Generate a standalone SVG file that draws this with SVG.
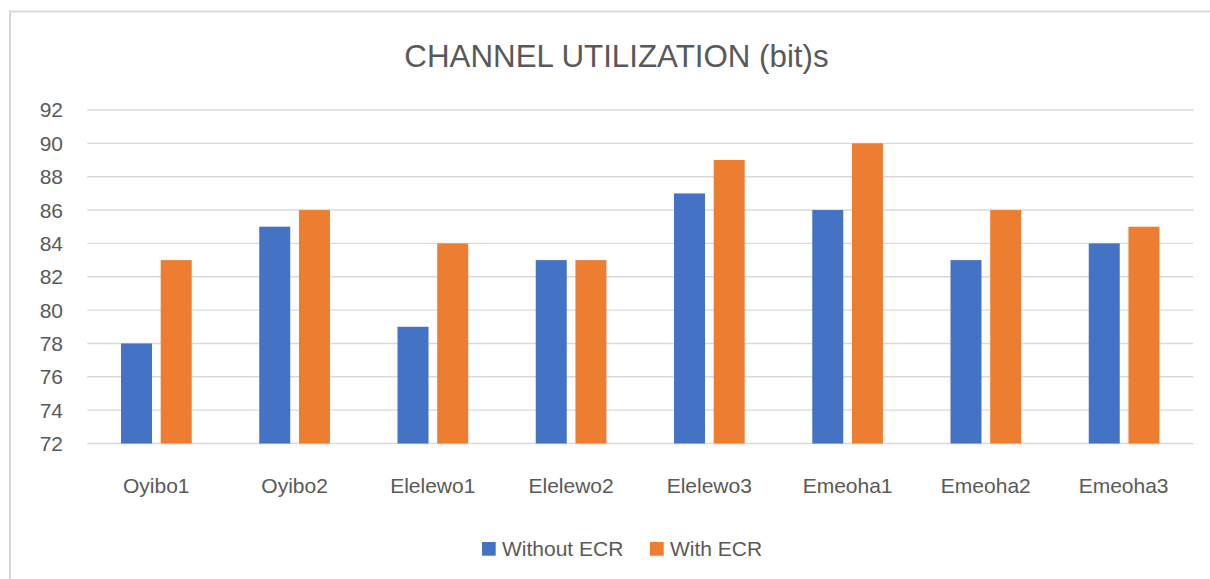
<svg xmlns="http://www.w3.org/2000/svg" width="1210" height="579" viewBox="0 0 1210 579">
<style>
.t{font-family:"Liberation Sans",Arial,sans-serif;fill:#595959}
.grid{stroke:#d9d9d9;stroke-width:1.4}
.b{fill:#4472c4}
.o{fill:#ed7d31}
</style>
<rect x="0" y="0" width="1210" height="579" fill="#ffffff"/>
<rect x="10" y="11.5" width="1300" height="700" fill="none" stroke="#d9d9d9" stroke-width="2"/>
<text class="t" x="616.5" y="67" font-size="31.3" text-anchor="middle">CHANNEL UTILIZATION (bit)s</text>
<g id="grid">
<line class="grid" x1="87.3" y1="110" x2="1193.3" y2="110"/>
<line class="grid" x1="87.3" y1="143.35" x2="1193.3" y2="143.35"/>
<line class="grid" x1="87.3" y1="176.7" x2="1193.3" y2="176.7"/>
<line class="grid" x1="87.3" y1="210.05" x2="1193.3" y2="210.05"/>
<line class="grid" x1="87.3" y1="243.4" x2="1193.3" y2="243.4"/>
<line class="grid" x1="87.3" y1="276.75" x2="1193.3" y2="276.75"/>
<line class="grid" x1="87.3" y1="310.1" x2="1193.3" y2="310.1"/>
<line class="grid" x1="87.3" y1="343.45" x2="1193.3" y2="343.45"/>
<line class="grid" x1="87.3" y1="376.8" x2="1193.3" y2="376.8"/>
<line class="grid" x1="87.3" y1="410.15" x2="1193.3" y2="410.15"/>
<line class="grid" x1="87.3" y1="443.5" x2="1193.3" y2="443.5"/>
</g>
<g id="yaxis" class="t" font-size="21" text-anchor="end">
<text x="63" y="117.4">92</text>
<text x="63" y="150.8">90</text>
<text x="63" y="184.1">88</text>
<text x="63" y="217.5">86</text>
<text x="63" y="250.8">84</text>
<text x="63" y="284.2">82</text>
<text x="63" y="317.5">80</text>
<text x="63" y="350.9">78</text>
<text x="63" y="384.2">76</text>
<text x="63" y="417.6">74</text>
<text x="63" y="450.9">72</text>
</g>
<g id="bars">
<rect class="b" x="121" y="343.45" width="31" height="100.05"/>
<rect class="o" x="160.7" y="260.1" width="31" height="183.4"/>
<rect class="b" x="259.25" y="226.7" width="31" height="216.8"/>
<rect class="o" x="298.95" y="210.05" width="31" height="233.45"/>
<rect class="b" x="397.5" y="326.8" width="31" height="116.7"/>
<rect class="o" x="437.2" y="243.4" width="31" height="200.1"/>
<rect class="b" x="535.75" y="260.1" width="31" height="183.4"/>
<rect class="o" x="575.45" y="260.1" width="31" height="183.4"/>
<rect class="b" x="674" y="193.4" width="31" height="250.1"/>
<rect class="o" x="713.7" y="160" width="31" height="283.5"/>
<rect class="b" x="812.25" y="210.05" width="31" height="233.45"/>
<rect class="o" x="851.95" y="143.35" width="31" height="300.15"/>
<rect class="b" x="950.5" y="260.1" width="31" height="183.4"/>
<rect class="o" x="990.2" y="210.05" width="31" height="233.45"/>
<rect class="b" x="1088.75" y="243.4" width="31" height="200.1"/>
<rect class="o" x="1128.45" y="226.7" width="31" height="216.8"/>
</g>
<g id="xaxis" class="t" font-size="21" text-anchor="middle">
<text x="156.3" y="492.7">Oyibo1</text>
<text x="294.6" y="492.7">Oyibo2</text>
<text x="432.8" y="492.7">Elelewo1</text>
<text x="571.1" y="492.7">Elelewo2</text>
<text x="709.3" y="492.7">Elelewo3</text>
<text x="847.6" y="492.7">Emeoha1</text>
<text x="985.8" y="492.7">Emeoha2</text>
<text x="1123.6" y="492.7">Emeoha3</text>
</g>
<g id="legend">
<rect class="b" x="482" y="542" width="13.7" height="13.7"/>
<text class="t" x="502" y="555.5" font-size="21">Without ECR</text>
<rect class="o" x="650" y="542" width="13.7" height="13.7"/>
<text class="t" x="670" y="555.5" font-size="21">With ECR</text>
</g>
</svg>
